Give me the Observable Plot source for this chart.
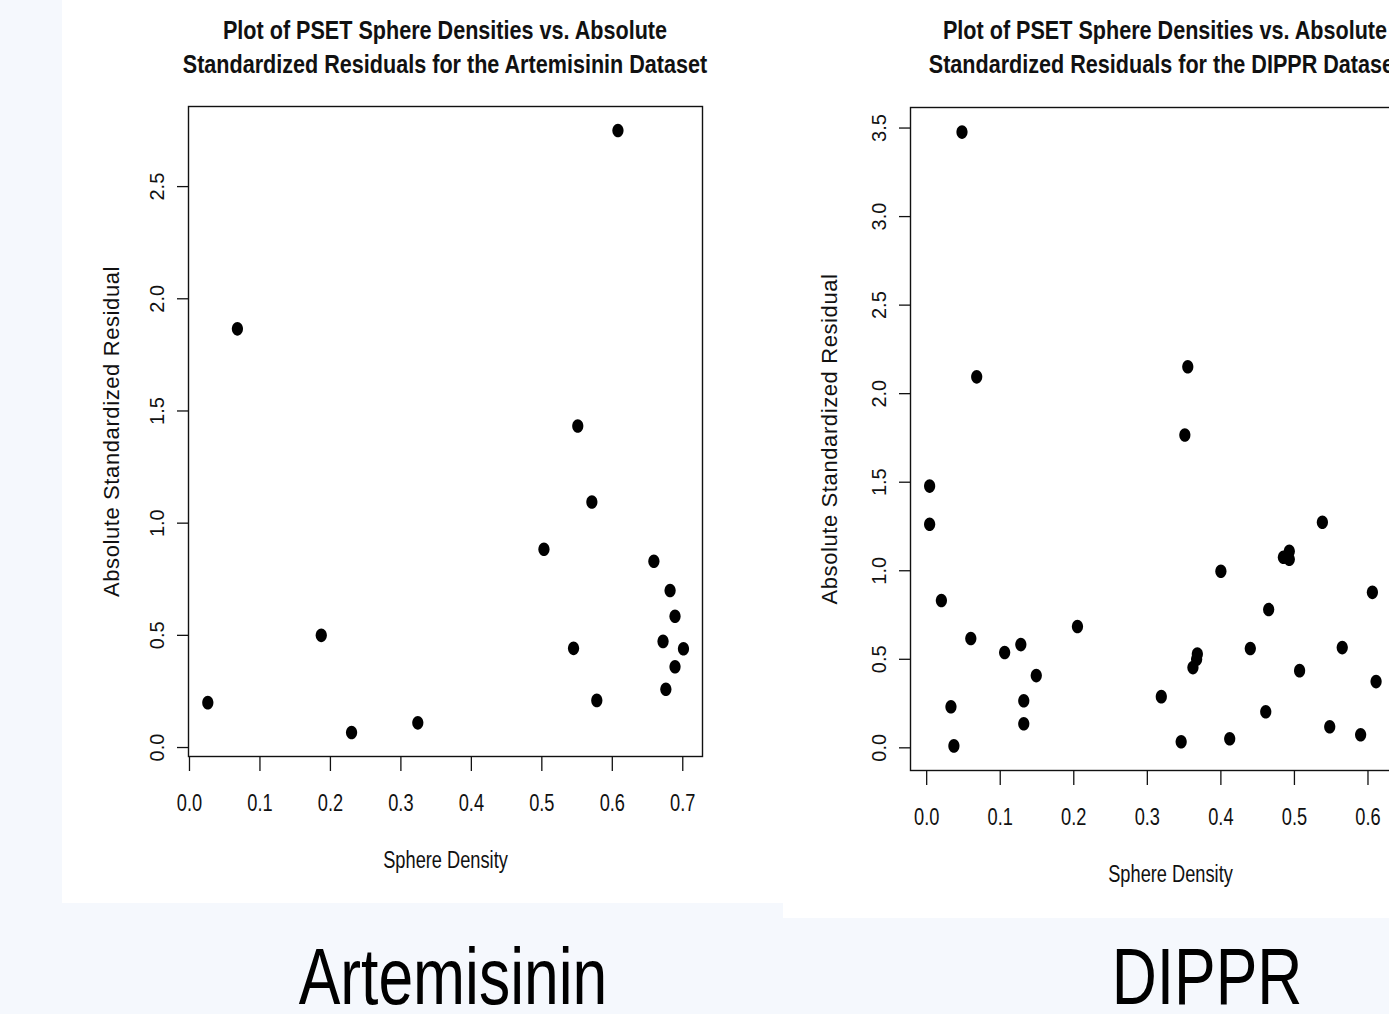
<!DOCTYPE html>
<html>
<head>
<meta charset="utf-8">
<script src="https://cdn.jsdelivr.net/npm/d3@7"></script>
<script src="https://cdn.jsdelivr.net/npm/@observablehq/plot@0.6"></script>
<style>
  html, body { margin: 0; padding: 0; }
  body { width: 1389px; height: 1014px; overflow: hidden; position: relative;
         background: #f5f8fd; font-family: "Liberation Sans", Arial, sans-serif; color: #111; }
  .panel { position: absolute; top: 0; background: #ffffff; overflow: hidden; }
  .title { position: relative; height: 92px; box-sizing: border-box; padding-top: 13px; }
  .title div { font-weight: bold; font-size: 26px; line-height: 34px; white-space: nowrap;
               text-align: center; transform: scaleX(0.83); transform-origin: 50% 50%; color: #111; }
  .caption { position: absolute; top: 942px; font-size: 80px; line-height: 70px; white-space: nowrap;
             transform: scaleX(0.78); transform-origin: 50% 50%; text-align: center; color: #000; }
  svg text { fill: #111; }
</style>
</head>
<body>
<div class="panel" id="left" style="left:62px; width:721px; height:903px;">
  <div class="title" style="width:766px;">
    <div>Plot of PSET Sphere Densities vs. Absolute</div>
    <div>Standardized Residuals for the Artemisinin Dataset</div>
  </div>
</div>
<div class="panel" id="right" style="left:783px; width:606px; height:918px;">
  <div class="title" style="width:764px;">
    <div>Plot of PSET Sphere Densities vs. Absolute</div>
    <div>Standardized Residuals for the DIPPR Dataset</div>
  </div>
</div>
<div class="caption" style="left:203px; width:500px;">Artemisinin</div>
<div class="caption" style="left:1027px; width:360px;">DIPPR</div>

<script>
// ---- Artemisinin dataset (sphere density, absolute standardized residual)
const artX = [0.026, 0.068, 0.187, 0.230, 0.324, 0.503, 0.545, 0.551, 0.571, 0.578,
              0.608, 0.659, 0.672, 0.682, 0.689, 0.676, 0.689, 0.701];
const artY = [0.20, 1.866, 0.50, 0.067, 0.11, 0.884, 0.442, 1.433, 1.094, 0.21,
              2.75, 0.83, 0.473, 0.70, 0.585, 0.26, 0.36, 0.44];

// ---- DIPPR dataset (visible portion)
const dipX = [0.048, 0.004, 0.004, 0.020, 0.068, 0.060, 0.033, 0.037, 0.106, 0.128,
              0.149, 0.132, 0.132, 0.205, 0.319, 0.346, 0.351, 0.355, 0.362, 0.367,
              0.368, 0.400, 0.412, 0.440, 0.461, 0.465, 0.485, 0.493, 0.493, 0.507,
              0.538, 0.548, 0.565, 0.590, 0.606, 0.611];
const dipY = [3.477, 1.478, 1.263, 0.832, 2.095, 0.617, 0.232, 0.011, 0.538, 0.583,
              0.408, 0.266, 0.136, 0.685, 0.289, 0.034, 1.767, 2.152, 0.453, 0.50,
              0.53, 0.997, 0.051, 0.561, 0.204, 0.781, 1.076, 1.11, 1.065, 0.436,
              1.274, 0.119, 0.566, 0.074, 0.878, 0.374];

// ---- tick labels
const artXTicks = [0, 0.1, 0.2, 0.3, 0.4, 0.5, 0.6, 0.7];
const artYTicks = [0, 0.5, 1.0, 1.5, 2.0, 2.5];
const dipXTicks = [0, 0.1, 0.2, 0.3, 0.4, 0.5, 0.6];
const dipYTicks = [0, 0.5, 1.0, 1.5, 2.0, 2.5, 3.0, 3.5];

const xLabel = "Sphere Density";
const yLabel = "Absolute Standardized Residual";

const artData = artX.map((x, i) => ({x, y: artY[i]}));
const dipData = dipX.map((x, i) => ({x, y: dipY[i]}));

// slightly tall filled ellipse, like the squeezed R pch=16 dots
const ellipse = {
  draw(ctx) {
    const rx = 5.6, ry = 6.8, k = 0.5523;
    ctx.moveTo(rx, 0);
    ctx.bezierCurveTo(rx, ry * k, rx * k, ry, 0, ry);
    ctx.bezierCurveTo(-rx * k, ry, -rx, ry * k, -rx, 0);
    ctx.bezierCurveTo(-rx, -ry * k, -rx * k, -ry, 0, -ry);
    ctx.bezierCurveTo(rx * k, -ry, rx, -ry * k, rx, 0);
    ctx.closePath();
  }
};

const fmt = d3.format(".1f");

function makePlot(cfg) {
  const svg = Plot.plot({
    width: cfg.width, height: cfg.height,
    marginLeft: cfg.ml, marginRight: cfg.mr, marginTop: cfg.mt, marginBottom: cfg.mb,
    style: {background: "white", fontFamily: '"Liberation Sans", Arial, sans-serif', color: "#111",
            overflow: "visible", maxWidth: "none"},
    x: {domain: cfg.xDomain},
    y: {domain: cfg.yDomain},
    marks: [
      Plot.frame({stroke: "#111", strokeWidth: 1.4}),
      Plot.axisX({ticks: cfg.xTicks, tickFormat: fmt, tickSize: 15, tickPadding: 22, strokeWidth: 1.3,
                  fontSize: 24, label: xLabel, labelAnchor: "center", labelArrow: "none", labelOffset: cfg.xlo}),
      Plot.axisY({ticks: cfg.yTicks, tickFormat: fmt, tickSize: 11, tickPadding: 14, tickRotate: -90, strokeWidth: 1.3,
                  fontSize: 20, label: yLabel, labelAnchor: "center", labelArrow: "none", labelOffset: cfg.ylo}),
      Plot.dot(cfg.data, {x: "x", y: "y", symbol: ellipse, fill: "black", stroke: "none"})
    ]
  });
  // horizontal text in the reference is condensed
  svg.querySelectorAll('g[aria-label="x-axis tick label"] text, g[aria-label="x-axis label"] text').forEach(t => {
    const tr = t.getAttribute("transform") || "";
    const x = t.getAttribute("x") || 0;
    t.setAttribute("transform", `${tr} translate(${x},0) scale(0.76,1)`);
    t.removeAttribute("x");
  });
  const yl = svg.querySelector('g[aria-label="y-axis label"]');
  if (yl) { yl.setAttribute("font-size", 22); yl.style.letterSpacing = "0.6px"; }
  svg.style.display = "block";
  return svg;
}

document.getElementById("left").appendChild(makePlot({
  width: 721, height: 811, ml: 126, mr: 81, mt: 14, mb: 147,
  xDomain: [-0.0014, 0.728], yDomain: [-0.04, 2.857],
  xTicks: artXTicks, yTicks: artYTicks, data: artData, xlo: 111, ylo: 85
}));

document.getElementById("right").appendChild(makePlot({
  width: 687, height: 826, ml: 127, mr: 40, mt: 15, mb: 148,
  xDomain: [-0.022, 0.685], yDomain: [-0.128, 3.616],
  xTicks: dipXTicks, yTicks: dipYTicks, data: dipData, xlo: 111, ylo: 89
}));
</script>
</body>
</html>
